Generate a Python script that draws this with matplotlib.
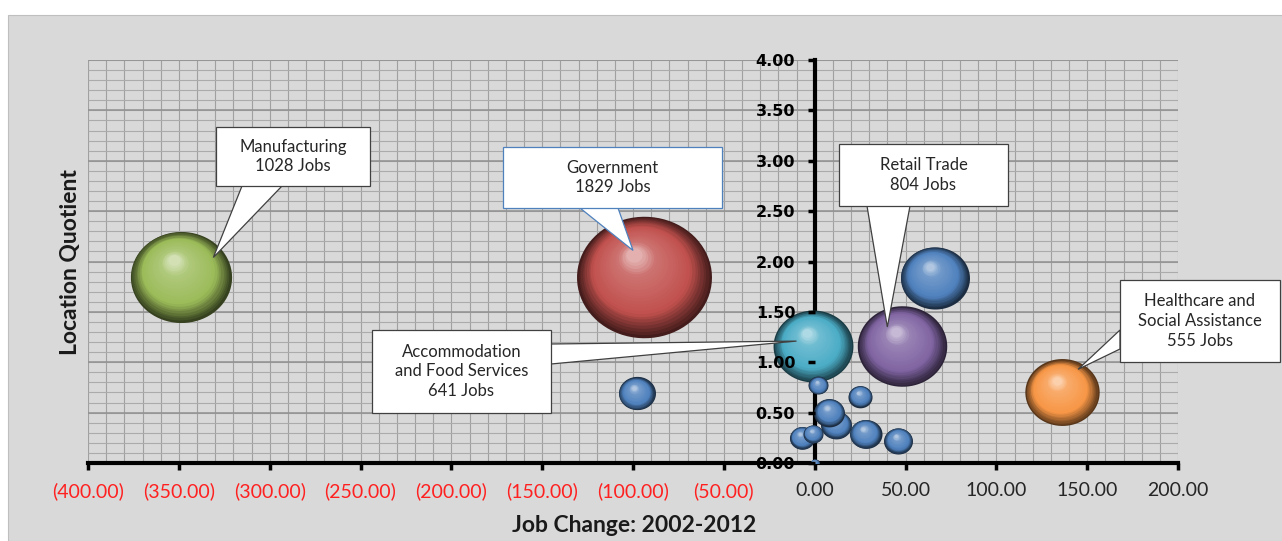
import numpy as np
import matplotlib
matplotlib.use("Agg")
import matplotlib.pyplot as plt
from matplotlib.path import Path
from matplotlib.markers import MarkerStyle
from matplotlib.patches import Rectangle, Polygon
from matplotlib.transforms import offset_copy
from matplotlib.colors import to_rgb

W, H = 1282, 541

# labelled industries
industries = ["Manufacturing", "Government", "Retail Trade",
              "Accommodation\nand Food Services", "Healthcare and\nSocial Assistance"]
job_change = [-349, -94, 48, -1, 136]
location_quotient = [1.85, 1.85, 1.16, 1.16, 0.70]
employment = [1028, 1829, 804, 641, 555]
colors = ["#9BBB59", "#C0504D", "#8064A2", "#4BACC6", "#F79646"]

# other industries (unlabelled blue bubbles)
other_change = [66, -98, 2, 25, 8, 12, 28, 46, -7, -1, 0]
other_lq = [1.84, 0.69, 0.77, 0.66, 0.50, 0.38, 0.29, 0.22, 0.25, 0.29, 0.0]
other_jobs = [478, 137, 40, 58, 96, 96, 103, 84, 63, 40, 8]
other_color = "#4F81BD"

# where each callout points (data coords)
tip_x = [-331, -100, 40, -10, 145]
tip_y = [2.04, 2.11, 1.35, 1.21, 0.93]

x_ticks = np.arange(-400, 201, 50)
y_ticks = np.arange(0, 4.01, 0.5)

# callout layout in figure pixels: box (left, top, right, bottom), wedge base points
boxes = [(216, 127, 370, 186), (503, 147, 722, 208), (839, 144, 1008, 206),
         (372, 330, 551, 413), (1120, 280, 1280, 362)]
bases = [((242, 186), (282, 186)), ((580, 208), (618, 208)), ((867, 206), (910, 206)),
         ((551, 344), (551, 364)), ((1120, 330), (1120, 349))]
edge_colors = ["#404040", "#4F81BD", "#404040", "#404040", "#404040"]

MAX_JOBS = 1829
MAX_W_PT = 135 * 0.72

theta = np.linspace(0, 2 * np.pi, 80)
ELLIPSE = MarkerStyle(Path(np.column_stack([np.cos(theta), 0.9 * np.sin(theta)]), closed=True))


def sphere(ax, x, y, jobs, color):
    w = MAX_W_PT * np.sqrt(jobs / MAX_JOBS)
    base = np.array(to_rgb(color))
    stops = [0, 0.3, 0.8, 1.0]
    ramp = [base * 0.35, base, base + (1 - base) * 0.2, base + (1 - base) * 0.55]
    n = 26
    for i in range(n):
        t = i / (n - 1)
        f = 1 - 0.88 * t
        c = [np.interp(t, stops, [r[k] for r in ramp]) for k in range(3)]
        tr = offset_copy(ax.transData, fig=ax.figure, x=-0.07 * w * t, y=0.16 * w * t, units="points")
        ax.scatter([x], [y], s=(w * f) ** 2, marker=ELLIPSE, color=c, linewidths=0,
                   transform=tr, zorder=2)


fig = plt.figure(figsize=(W / 100, H / 100), dpi=100)
fig.patch.set_facecolor("white")
fig.add_artist(Rectangle((8 / W, 0), 1, (H - 15) / H, transform=fig.transFigure,
                         fc="#D9D9D9", ec="#BFBFBF", lw=0.8, zorder=-10))

ax = fig.add_axes([88 / W, 78 / H, 1090 / W, 403 / H])
ax.set_facecolor("none")
ax.spines["left"].set_position(("data", 0))
for s in ["left", "bottom"]:
    ax.spines[s].set_linewidth(3)
    ax.spines[s].set_color("black")
    ax.spines[s].set_zorder(1.5)
for s in ["top", "right"]:
    ax.spines[s].set_visible(False)
ax.set_xlim(-400, 200)
ax.set_ylim(0, 4)

# grid
ax.vlines(np.arange(-400, 201, 10), 0, 4, color="#A0A0A0", lw=0.8, zorder=0.5)
ax.hlines(np.arange(0, 4.01, 0.1), -400, 200, color="#ABABAB", lw=0.8, zorder=0.5)
ax.hlines(y_ticks, -400, 200, color="#909090", lw=1.1, zorder=0.6)

ax.set_xticks(x_ticks)
ax.set_yticks(y_ticks)
ax.set_xticklabels([f"({abs(v):.2f})" if v < 0 else f"{v:.2f}" for v in x_ticks],
                   family="Lato", fontsize=14)
for lab, v in zip(ax.get_xticklabels(), x_ticks):
    lab.set_color("#FF2020" if v < 0 else "#262626")
ax.set_yticklabels([f"{v:.2f}" for v in y_ticks], family="DejaVu Sans",
                   fontweight="bold", fontsize=11.5)
ax.tick_params(direction="out", length=5, width=2.5, color="black")
ax.tick_params(axis="x", pad=9)
ax.tick_params(axis="y", pad=9)
ax.yaxis.set_zorder(3)

# bubbles, largest first
all_x = job_change + other_change
all_y = location_quotient + other_lq
all_jobs = employment + other_jobs
all_col = colors + [other_color] * len(other_change)
for i in np.argsort(all_jobs)[::-1]:
    sphere(ax, all_x[i], all_y[i], all_jobs[i], all_col[i])

# callouts
to_fig = fig.transFigure.inverted()
for name, jobs, (l, t, r, b), (b1, b2), tx, ty, ec in zip(
        industries, employment, boxes, bases, tip_x, tip_y, edge_colors):
    tip = to_fig.transform(ax.transData.transform((tx, ty)))
    p1 = (b1[0] / W, 1 - b1[1] / H)
    p2 = (b2[0] / W, 1 - b2[1] / H)
    fig.add_artist(Polygon([p1, p2, tip], closed=True, transform=fig.transFigure,
                           fc="white", ec=ec, lw=0.9, zorder=10))
    fig.add_artist(Rectangle((l / W, 1 - b / H), (r - l) / W, (b - t) / H,
                             transform=fig.transFigure, fc="white", ec=ec, lw=0.9, zorder=11))
    fig.text((l + r) / 2 / W, 1 - (t + b) / 2 / H, f"{name}\n{jobs} Jobs", ha="center",
             va="center", fontsize=12, family="Lato", color="#262626", linespacing=1.3,
             zorder=12)

fig.text(634 / W, 1 - 525 / H, "Job Change: 2002-2012", ha="center", va="center",
         fontsize=16.5, fontweight="bold", family="Lato", color="#1A1A1A")
fig.text(70 / W, 1 - 262 / H, "Location Quotient", ha="center", va="center", rotation=90,
         fontsize=16.5, fontweight="bold", family="Lato", color="#1A1A1A")

fig.savefig("out.png", dpi=100)
